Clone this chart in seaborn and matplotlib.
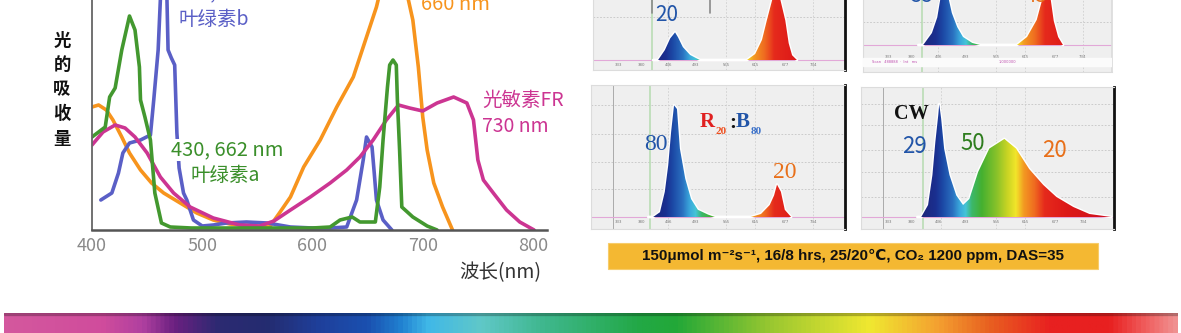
import numpy as np
import matplotlib
matplotlib.use("Agg")
import matplotlib.pyplot as plt
from matplotlib.colors import LinearSegmentedColormap, Normalize
from matplotlib.patches import Rectangle
import seaborn as sns

W, H = 1181, 333

# ---------------- data: absorption spectra (left chart) ----------------
abs_ticks = [400, 500, 600, 700, 800]

chl_a_nm = [400, 412, 416, 421, 427, 434, 439, 443, 444, 448, 453, 457, 463, 471, 490, 520, 560, 600,
            616, 625, 636, 643, 657, 661, 664, 668, 670, 673, 676, 677, 679, 681, 691, 704, 713]
chl_a_abs = [0.93, 1.03, 1.33, 1.42, 1.80, 2.14, 2.00, 1.63, 1.30, 1.13, 0.90, 0.37, 0.07, 0.03, 0.02, 0.02,
             0.02, 0.02, 0.03, 0.10, 0.13, 0.08, 0.08, 0.43, 0.90, 1.43, 1.65, 1.70, 1.65, 1.30, 0.80, 0.23,
             0.13, 0.04, 0.00]

chl_b_nm = [408, 418, 424, 428, 434, 444, 453, 456, 460, 462, 465, 468, 469, 472, 475, 477, 479, 483, 486,
            492, 500, 510, 522, 540, 559, 580, 600, 616, 631, 640, 646, 649, 654, 656, 658, 664, 672]
chl_b_abs = [0.30, 0.37, 0.57, 0.77, 0.87, 0.90, 0.95, 1.30, 1.80, 2.30, 2.60, 2.30, 1.80, 1.72, 1.65, 0.97,
             0.62, 0.37, 0.30, 0.10, 0.04, 0.05, 0.07, 0.08, 0.07, 0.03, 0.02, 0.02, 0.03, 0.30, 0.70, 0.93,
             0.83, 0.57, 0.30, 0.10, 0.00]

phy_r_nm = [400, 406, 413, 419, 427, 434, 444, 454, 465, 480, 495, 510, 525, 545, 561, 570, 580, 592, 607,
            622, 637, 649, 658, 665, 672, 680, 687, 691, 696, 700, 704, 710, 718, 727]
phy_r_abs = [1.23, 1.25, 1.20, 1.10, 0.93, 0.77, 0.60, 0.47, 0.37, 0.27, 0.17, 0.10, 0.06, 0.04, 0.03, 0.17,
             0.33, 0.63, 0.90, 1.23, 1.53, 1.93, 2.23, 2.55, 2.70, 2.60, 2.30, 2.10, 1.63, 1.13, 0.80, 0.47,
             0.23, 0.00]

phy_fr_nm = [400, 410, 421, 430, 439, 450, 462, 474, 489, 510, 534, 552, 565, 580, 598, 616, 631, 643, 655,
             667, 678, 688, 700, 713, 728, 740, 746, 750, 755, 764, 776, 788, 801]
phy_fr_abs = [0.85, 0.98, 1.05, 1.02, 0.93, 0.77, 0.53, 0.37, 0.23, 0.12, 0.05, 0.04, 0.09, 0.20, 0.33, 0.47,
              0.60, 0.73, 0.90, 1.10, 1.25, 1.22, 1.19, 1.27, 1.33, 1.27, 1.10, 0.70, 0.50, 0.37, 0.20, 0.08,
              0.00]

# ---------------- data: LED spectra (right panels) ----------------
led_ticks = [333, 380, 436, 493, 555, 615, 677, 734]

r80b20_nm = [405, 415, 429, 440, 450, 456, 466, 481, 501, 560, 598, 615, 629, 639, 650, 660, 667, 677, 684, 691, 701]
r80b20_int = [0, 0, 0.083, 0.18, 0.23, 0.19, 0.108, 0.042, 0, 0, 0, 0.05, 0.167, 0.33, 0.5, 0.93, 0.5, 0.33,
              0.14, 0.04, 0]

r45b55_nm = [395, 405, 423, 434, 440, 450, 458, 464, 475, 487, 506, 522, 560, 598, 619, 639, 650, 660, 667,
             674, 683, 693]
r45b55_int = [0, 0, 0.10, 0.23, 0.375, 0.70, 0.375, 0.267, 0.15, 0.067, 0.017, 0, 0, 0, 0.067, 0.21, 0.375,
              0.62, 0.40, 0.20, 0.067, 0]

r20b80_nm = [395, 405, 419, 429, 436, 442, 448, 454, 460, 471, 483, 497, 518, 532, 570, 606, 627, 645, 654,
             660, 668, 676, 689]
r20b80_int = [0, 0, 0.04, 0.21, 0.43, 0.71, 0.93, 0.90, 0.57, 0.32, 0.15, 0.06, 0.02, 0, 0, 0, 0.025, 0.10,
              0.18, 0.27, 0.21, 0.06, 0]

cw_nm = [393, 401, 415, 424, 430, 436, 438, 442, 448, 459, 473, 487, 500, 518, 541, 572, 596, 623, 652, 679,
         714, 747, 792]
cw_int = [0, 0, 0.10, 0.35, 0.625, 0.85, 0.94, 0.817, 0.57, 0.35, 0.18, 0.10, 0.15, 0.375, 0.57, 0.65, 0.57,
          0.40, 0.267, 0.167, 0.083, 0.025, 0]

banner_text = "150\u03bcmol m\u207b\u00b2s\u207b\u00b9, 16/8 hrs, 25/20\u2103, CO\u2082 1200 ppm, DAS=35"

# ---------------- styling ----------------
sns.set_theme(style="white")
plt.rcParams["font.family"] = ["Noto Sans CJK SC", "DejaVu Sans"]

C_GREEN = "#43982f"
C_BLUE = "#5a5fc6"
C_ORANGE = "#f7941d"
C_PINK = "#cc3592"
C_LBLUE = "#2255a8"
C_LORANGE = "#e8701a"

spec_stops = [(380, "#20206a"), (430, "#1a2f90"), (445, "#1c49a6"), (465, "#2a70c0"), (480, "#3aa8dc"),
              (492, "#45c4d8"), (505, "#3cb86a"), (525, "#44b030"), (555, "#86c12a"), (578, "#c8d424"),
              (596, "#f2e62a"), (612, "#f39a22"), (635, "#ef6a20"), (655, "#e52a1c"), (700, "#dd1818"),
              (800, "#cc1020")]
spec_cmap = LinearSegmentedColormap.from_list(
    "spec", [((l - 380) / 420, c) for l, c in spec_stops])

rainbow_stops = [(0.0, "#d4589e"), (0.082, "#d04c9c"), (0.116, "#b040a0"), (0.144, "#6a2080"),
                 (0.181, "#2c2a72"), (0.223, "#242c70"), (0.266, "#1f3f9a"), (0.309, "#1a50b0"),
                 (0.337, "#2080d0"), (0.361, "#40b8e8"), (0.406, "#60c8c8"), (0.457, "#40b890"),
                 (0.542, "#22a845"), (0.573, "#22a838"), (0.656, "#9cc830"), (0.739, "#f0e830"),
                 (0.797, "#f4a030"), (0.841, "#e86020"), (0.893, "#e82020"), (0.944, "#e82020"),
                 (0.976, "#f06060"), (1.0, "#f09090")]
rainbow_cmap = LinearSegmentedColormap.from_list("rb", rainbow_stops)

fig = plt.figure(figsize=(W / 100, H / 100), dpi=100)
fig.patch.set_facecolor("white")


def fx(px):
    return px / W


def fy(py):
    return 1 - py / H


def add_ax(x0, y0, x1, y1):
    return fig.add_axes([x0 / W, 1 - y1 / H, (x1 - x0) / W, (y1 - y0) / H])


# ---------------- left chart ----------------
ax = add_ax(92, 0, 547, 230)
ax.set_facecolor("white")
for nm, ab, col in [(phy_r_nm, phy_r_abs, C_ORANGE), (chl_b_nm, chl_b_abs, C_BLUE),
                    (phy_fr_nm, phy_fr_abs, C_PINK), (chl_a_nm, chl_a_abs, C_GREEN)]:
    sns.lineplot(x=nm, y=ab, ax=ax, color=col, lw=2.6, estimator=None, sort=False, legend=False,
                 solid_joinstyle="round", solid_capstyle="round")
ax.set_xlim(400, 812.7)
ax.set_ylim(0, 2.30)
ax.set_xticks(abs_ticks)
ax.set_xticklabels([str(t) for t in abs_ticks], fontsize=13, color="#8a8a8a")
ax.tick_params(axis="x", length=0, pad=5)
ax.set_yticks([])
ax.set_xlabel("")
ax.set_ylabel("")
for s in ["top", "right"]:
    ax.spines[s].set_visible(False)
ax.spines["left"].set_color("#666666")
ax.spines["left"].set_linewidth(1.3)
ax.spines["bottom"].set_color("#555555")
ax.spines["bottom"].set_linewidth(1.8)

# y label (vertical characters)
for ch, py in zip("光的吸收量", [41, 65, 89, 114, 139]):
    fig.text(fx(62), fy(py), ch, ha="center", va="center", fontsize=12.5, fontweight="bold", color="#111111")
fig.text(fx(500), fy(273), "波长(nm)", ha="center", va="center", fontsize=14, color="#333333")

fig.text(fx(178), fy(-7), "453, 642 nm", ha="left", va="center", fontsize=14, color=C_BLUE)
fig.text(fx(178), fy(19), "叶绿素b", ha="left", va="center", fontsize=14, color=C_BLUE)
fig.text(fx(171), fy(150), "430, 662 nm", ha="left", va="center", fontsize=14.5, color="#3a8f2a",
         bbox=dict(facecolor="white", edgecolor="none", pad=0.6), zorder=5)
fig.text(fx(190), fy(175), "叶绿素a", ha="left", va="center", fontsize=14, color="#3a8f2a")
fig.text(fx(421), fy(5), "660 nm", ha="left", va="center", fontsize=14.5, color=C_ORANGE)
fig.text(fx(482), fy(100), "光敏素FR", ha="left", va="center", fontsize=14, color=C_PINK)
fig.text(fx(482), fy(126), "730 nm", ha="left", va="center", fontsize=14, color=C_PINK)


# ---------------- LED panels ----------------
def led_panel(rect, xlim, ylim, nm, inten, grid_y, grid_x, green_x, right_line=True, ticks=None):
    a = add_ax(*rect)
    a.set_facecolor("#efefef")
    a.set_xlim(*xlim)
    a.set_ylim(*ylim)
    for g in grid_y:
        a.axhline(g, ls=(0, (2, 2)), color="#c4c4c4", lw=0.6, zorder=1)
    for g in grid_x:
        a.axvline(g, ls=(0, (2, 2)), color="#cfcfcf", lw=0.6, zorder=1)
    a.axvline(green_x, color="#b5dbb0", lw=1.1, zorder=1)
    a.axhline(0, color="#e2a8d8", lw=0.8, zorder=2)
    sns.lineplot(x=nm, y=inten, ax=a, color="white", lw=2.0, estimator=None, sort=False, legend=False, zorder=2)
    fill = a.fill_between(nm, inten, 0, facecolor="none", edgecolor="none")
    lam = np.linspace(xlim[0], xlim[1], 800)[None, :]
    im = a.imshow(lam, extent=[xlim[0], xlim[1], 0, ylim[1]], cmap=spec_cmap, norm=Normalize(380, 800),
                  aspect="auto", origin="lower", zorder=3, interpolation="bilinear")
    im.set_clip_path(fill.get_paths()[0], transform=a.transData)
    a.set_xlim(*xlim)
    a.set_ylim(*ylim)
    a.set_xticks([])
    a.set_yticks([])
    a.set_xlabel("")
    a.set_ylabel("")
    for s in ["left", "top", "bottom"]:
        a.spines[s].set_color("#dcdcdc")
        a.spines[s].set_linewidth(0.8)
    if right_line:
        a.spines["right"].set_color("#111111")
        a.spines["right"].set_linewidth(2.0)
    else:
        a.spines["right"].set_color("#dcdcdc")
    if ticks is not None:
        for t in ticks:
            a.text(t, ylim[0] * 0.45, "%d" % round(t), fontsize=2.8, color="#777777", ha="center",
                   va="center", family="DejaVu Sans")
    return a


# top-left: R80:B20
tl = led_panel((593, -70, 845, 70), (281, 800), (-0.083, 1.083), r80b20_nm, r80b20_int,
               [0.36], [436, 555, 615, 734], 403, ticks=led_ticks)
tl.plot([403, 403], [0.39, 1.08], color="#8a8a8a", lw=1.2, zorder=4)
tl.plot([522, 522], [0.39, 1.08], color="#8a8a8a", lw=1.2, zorder=4)
fig.text(fx(667), fy(15), "20", ha="center", va="center", fontsize=15, color=C_LBLUE, zorder=6)

# top-right: R45:B55
tr = led_panel((863, -75, 1112, 72), (281, 794), (-0.225, 1.0), r45b55_nm, r45b55_int,
               [0.19], [436, 555, 615, 734], 403, right_line=False, ticks=led_ticks)
tr.axhspan(-0.175, -0.108, color="#fbfbfb", zorder=4)
tr.text(300, -0.14, "Scan   488888  ·  Int   ms", fontsize=2.6, color="#c050b0", va="center", zorder=5,
        family="DejaVu Sans")
tr.text(560, -0.14, "1.000000", fontsize=2.6, color="#c050b0", va="center", zorder=5, family="DejaVu Sans")
fig.text(fx(922), fy(-4), "55", ha="center", va="center", fontsize=15, color=C_LBLUE, zorder=6)
fig.text(fx(1036), fy(-4), "45", ha="center", va="center", fontsize=15, color=C_LORANGE, zorder=6)

# bottom-left: R20:B80
bl = led_panel((591, 85, 845, 229), (277, 800), (-0.1, 1.1), r20b80_nm, r20b80_int,
               [0.93, 0.69, 0.46, 0.23], [436, 555, 615, 734], 399, ticks=led_ticks)
bl.axvline(322, color="#a0a0a0", lw=0.6, zorder=1)
fig.text(fx(656), fy(144), "80", ha="center", va="center", fontsize=17, color=C_LBLUE,
         family="Liberation Serif", zorder=6)
fig.text(fx(785), fy(172), "20", ha="center", va="center", fontsize=17, color=C_LORANGE,
         family="Liberation Serif", zorder=6)
fig.text(fx(700), fy(122), "R", ha="left", va="center", fontsize=15, color="#e02020", fontweight="bold",
         family="Liberation Serif", zorder=6)
fig.text(fx(715), fy(132), "20", ha="left", va="center", fontsize=8, color="#ee5020", fontweight="bold",
         family="Liberation Serif", zorder=6)
fig.text(fx(729), fy(123), ":", ha="left", va="center", fontsize=15, color="#111111", fontweight="bold",
         family="Liberation Serif", zorder=6)
fig.text(fx(736), fy(122), "B", ha="left", va="center", fontsize=15, color=C_LBLUE, fontweight="bold",
         family="Liberation Serif", zorder=6)
fig.text(fx(751), fy(132), "80", ha="left", va="center", fontsize=8, color="#3a70c8", fontweight="bold",
         family="Liberation Serif", zorder=6)

# bottom-right: cool white
br = led_panel((861, 87, 1114, 229), (277, 797.6), (-0.1, 1.083), cw_nm, cw_int,
               [0.94, 0.77, 0.56, 0.375, 0.167], [442, 555, 615], 405, ticks=led_ticks)
br.axvline(322, color="#a0a0a0", lw=0.6, zorder=1)
fig.text(fx(911), fy(114), "CW", ha="center", va="center", fontsize=14.5, color="#111111", fontweight="bold",
         family="Liberation Serif", zorder=6)
fig.text(fx(914), fy(147), "29", ha="center", va="center", fontsize=16, color=C_LBLUE, zorder=6)
fig.text(fx(973), fy(144), "50", ha="center", va="center", fontsize=16, color="#2e7d1e", zorder=6)
fig.text(fx(1054), fy(150), "20", ha="center", va="center", fontsize=16, color=C_LORANGE, zorder=6)

# ---------------- banner ----------------
fig.add_artist(Rectangle((fx(608), fy(269)), 490 / W, 26 / H, transform=fig.transFigure,
                         facecolor="#f4b832", edgecolor="#f7cc6a", lw=0.8))
fig.text(fx(853), fy(256), banner_text, ha="center", va="center", fontsize=10.9, fontweight="bold",
         color="#111111", family=["Liberation Sans", "DejaVu Sans"], zorder=6)

# ---------------- rainbow bar ----------------
rb = fig.add_axes([4 / W, 0, 1174 / W, 20 / H])
rb.imshow(np.linspace(0, 1, 1200)[None, :], cmap=rainbow_cmap, aspect="auto", extent=[0, 1, 0, 1])
rb.axhspan(0.88, 1.0, color="black", alpha=0.18)
rb.set_xlim(0, 1)
rb.set_ylim(0, 1)
rb.axis("off")

fig.savefig("out.png", dpi=100, facecolor="white")
